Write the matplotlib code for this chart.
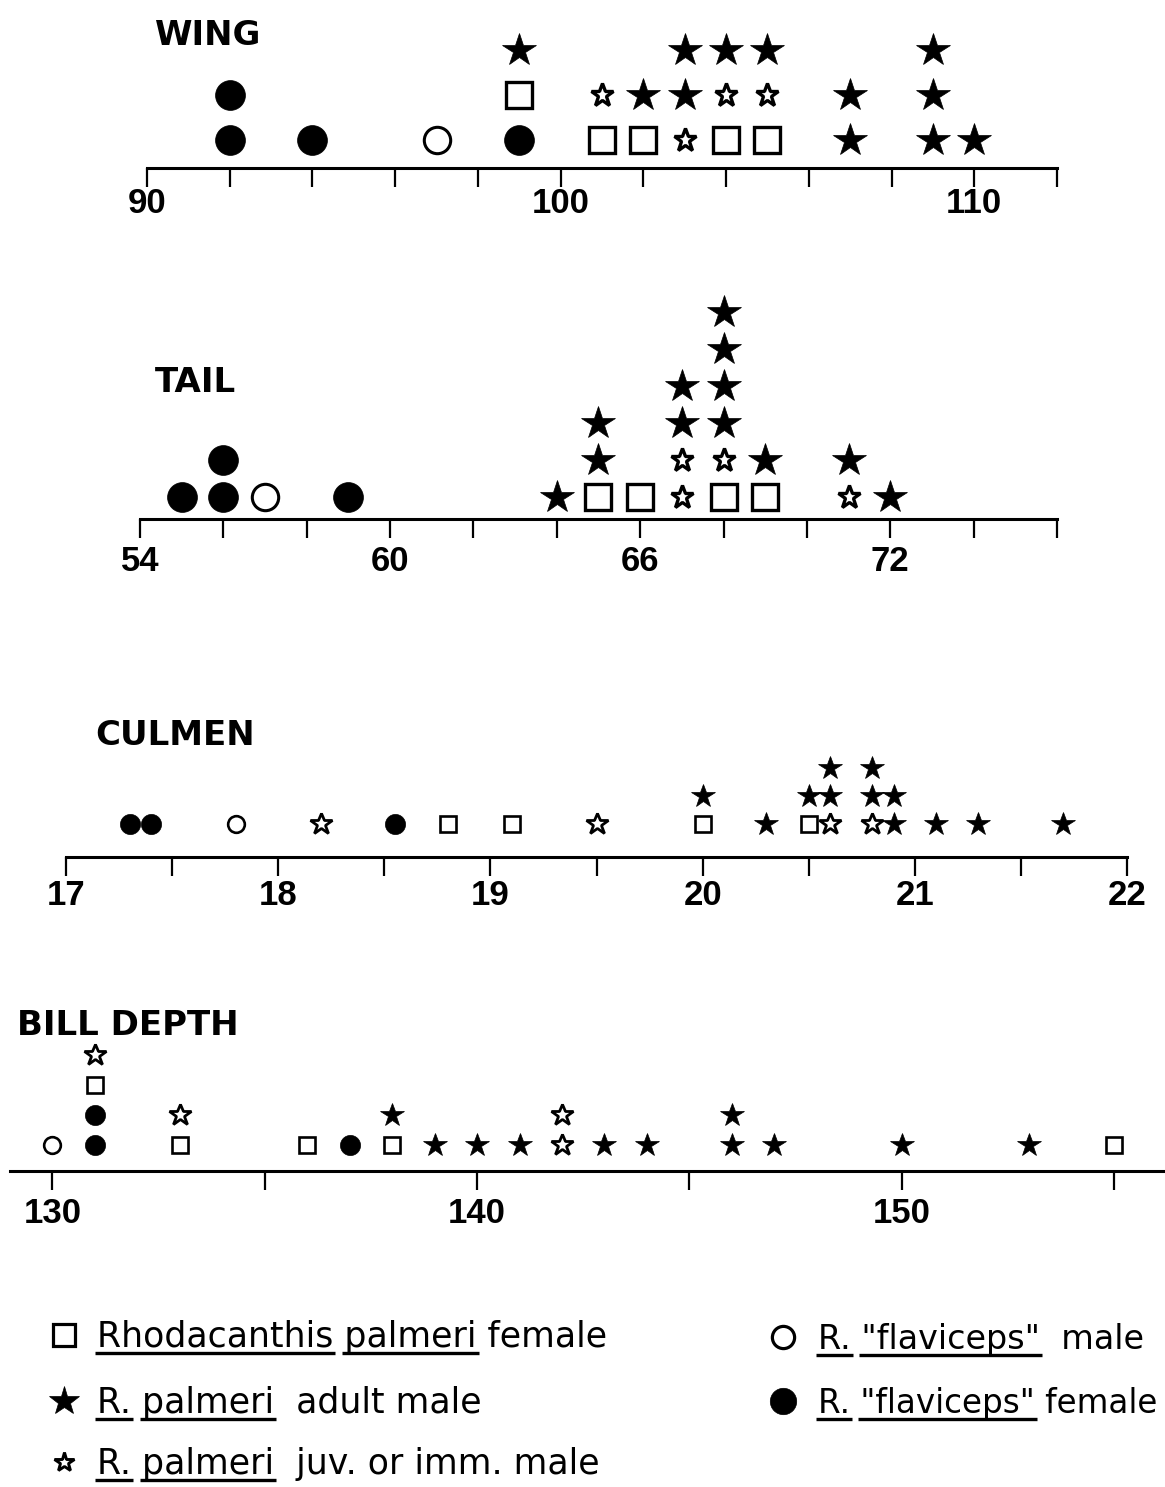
import matplotlib
matplotlib.use("Agg")
import matplotlib.pyplot as plt
from matplotlib import font_manager

W, H = 1165, 1487

available = {f.name for f in font_manager.fontManager.ttflist}
TICK_FONT = "Liberation Sans Narrow" if "Liberation Sans Narrow" in available else "Liberation Sans"
TEXT_FONT = "DejaVu Sans"

# ---------------- data ----------------
ORDER = ["flav_female", "flav_male", "female", "juv", "adult"]

wing_flav_female = [92, 92, 94, 99]
wing_flav_male = [97]
wing_female = [99, 101, 102, 104, 105]
wing_juv = [101, 103, 104, 105]
wing_adult = [99, 102, 103, 103, 104, 105, 107, 107, 109, 109, 109, 110]
wing_ticks = list(range(90, 113, 2))
wing_labels = [90, 100, 110]

tail_flav_female = [55, 56, 56, 59]
tail_flav_male = [57]
tail_female = [65, 66, 68, 69]
tail_juv = [67, 67, 68, 71]
tail_adult = [64, 65, 65, 67, 67, 68, 68, 68, 68, 69, 71, 72]
tail_ticks = list(range(54, 77, 2))
tail_labels = [54, 60, 66, 72]

culmen_flav_female = [17.3, 17.4, 18.55]
culmen_flav_male = [17.8]
culmen_female = [18.8, 19.1, 20.0, 20.5]
culmen_juv = [18.2, 19.5, 20.6, 20.8]
culmen_adult = [20.0, 20.3, 20.5, 20.6, 20.6, 20.8, 20.8, 20.9, 20.9, 21.1, 21.3, 21.7]
culmen_ticks = [17, 17.5, 18, 18.5, 19, 19.5, 20, 20.5, 21, 21.5, 22]
culmen_labels = [17, 18, 19, 20, 21, 22]

bill_flav_female = [131, 131, 137]
bill_flav_male = [130]
bill_female = [131, 133, 136, 138, 155]
bill_juv = [131, 133, 142, 142]
bill_adult = [138, 139, 140, 141, 143, 144, 146, 146, 147, 150, 153]
bill_ticks = [130, 135, 140, 145, 150, 155]
bill_labels = [130, 140, 150]

# ---------------- styles ----------------
STYLES = {
    "flav_female": dict(marker="o", mfc="black", mec="black"),
    "flav_male": dict(marker="o", mfc="white", mec="black"),
    "female": dict(marker="s", mfc="white", mec="black"),
    "juv": dict(marker="*", mfc="white", mec="black"),
    "adult": dict(marker="*", mfc="black", mec="black"),
}
SIZES_BIG = {"flav_female": (21.5, 0.5), "flav_male": (19, 2.2), "female": (18.5, 2.4),
             "juv": (17, 2.4), "adult": (25, 0.5)}
SIZES_SMALL = {"flav_female": (14.5, 0.5), "flav_male": (12, 1.9), "female": (11.5, 1.9),
               "juv": (16.5, 2.0), "adult": (17.5, 0.5)}

fig = plt.figure(figsize=(W / 100, H / 100), dpi=100)


def fmt(t):
    return str(int(round(t)))


def draw_panel(title, title_xy, series, xlim, x_px, axis_y, base, step, ticks, labeled,
               sizes, label_pad, height_px=160):
    left = x_px[0] / W
    width = (x_px[1] - x_px[0]) / W
    bottom = 1 - axis_y / H
    ax = fig.add_axes([left, bottom, width, height_px / H])
    ax.set_xlim(*xlim)
    ax.set_ylim(0, height_px)
    ax.patch.set_visible(False)
    for s in ["top", "left", "right"]:
        ax.spines[s].set_visible(False)
    ax.spines["bottom"].set_linewidth(2.2)
    ax.set_yticks([])
    ax.set_xticks(ticks)
    ax.set_xticklabels([fmt(t) if any(abs(t - l) < 1e-9 for l in labeled) else "" for t in ticks],
                       fontfamily=TICK_FONT, fontsize=25, fontweight="bold")
    ax.tick_params(axis="x", direction="out", length=14, width=1.6, pad=label_pad)
    counts = {}
    for key in ORDER:
        xs, ys = [], []
        for v in series[key]:
            k = round(v, 3)
            lvl = counts.get(k, 0)
            counts[k] = lvl + 1
            xs.append(v)
            ys.append(base + lvl * step)
        ms, mew = sizes[key]
        ax.plot(xs, ys, linestyle="none", ms=ms, mew=mew, clip_on=False, **STYLES[key])
    fig.text(title_xy[0] / W, 1 - title_xy[1] / H, title, fontfamily=TEXT_FONT,
             fontweight="bold", fontsize=24.5, ha="left", va="baseline")
    return ax


draw_panel("WING", (155, 45),
           dict(flav_female=wing_flav_female, flav_male=wing_flav_male, female=wing_female,
                juv=wing_juv, adult=wing_adult),
           (90, 112), (147, 1057), 168, 28, 45, wing_ticks, wing_labels, SIZES_BIG, 0)

draw_panel("TAIL", (155, 392),
           dict(flav_female=tail_flav_female, flav_male=tail_flav_male, female=tail_female,
                juv=tail_juv, adult=tail_adult),
           (54, 76), (140, 1057), 519, 22, 37, tail_ticks, tail_labels, SIZES_BIG, 5, 230)

draw_panel("CULMEN", (95, 745),
           dict(flav_female=culmen_flav_female, flav_male=culmen_flav_male, female=culmen_female,
                juv=culmen_juv, adult=culmen_adult),
           (17, 22), (66, 1127), 857, 33, 28, culmen_ticks, culmen_labels, SIZES_SMALL, 2)

draw_panel("BILL DEPTH", (17, 1035),
           dict(flav_female=bill_flav_female, flav_male=bill_flav_male, female=bill_female,
                juv=bill_juv, adult=bill_adult),
           (129.0, 156.2), (10, 1165), 1171, 26, 30, bill_ticks, bill_labels, SIZES_SMALL, 5)

# ---------------- legend ----------------
lax = fig.add_axes([0, 0, 1, 1])
lax.set_xlim(0, W)
lax.set_ylim(H, 0)
lax.axis("off")
renderer = fig.canvas.get_renderer()
LEG_SIZE = 25


def measure(x, y, s, size):
    t = lax.text(x, y, s, fontsize=size, family=TEXT_FONT, ha="left", va="baseline")
    bb = t.get_window_extent(renderer)
    t.remove()
    return bb.x0, bb.x1


def underlined_text(x, y, parts, size):
    full = "".join(p for p, _ in parts)
    lax.text(x, y, full, fontsize=size, family=TEXT_FONT, ha="left", va="baseline")
    pos = 0
    for p, u in parts:
        if u:
            _, end = measure(x, y, full[:pos + len(p)], size)
            w0, w1 = measure(x, y, p, size)
            start = end - (w1 - w0)
            lax.plot([start - 2, end + 2], [y + 6, y + 6], color="black", lw=2.4,
                     solid_capstyle="butt")
        pos += len(p)


legend_rows = [
    ("female", 64, 1335, 16, 2.3, 97, 1347, LEG_SIZE,
     [("Rhodacanthis", True), (" ", False), ("palmeri", True), (" female", False)]),
    ("adult", 64, 1401, 22, 0.5, 97, 1413, LEG_SIZE,
     [("R.", True), (" ", False), ("palmeri", True), ("  adult male", False)]),
    ("juv", 64, 1462, 15, 2.1, 97, 1474, LEG_SIZE,
     [("R.", True), (" ", False), ("palmeri", True), ("  juv. or imm. male", False)]),
    ("flav_male", 783, 1337, 16, 2.3, 818, 1349, 24,
     [("R.", True), (" ", False), ('"flaviceps"', True), ("  male", False)]),
    ("flav_female", 783, 1401, 19, 0.5, 818, 1413, 23.5,
     [("R.", True), (" ", False), ('"flaviceps"', True), (" female", False)]),
]
for key, kx, ky, ms, mew, tx, ty, size, parts in legend_rows:
    lax.plot([kx], [ky], linestyle="none", ms=ms, mew=mew, clip_on=False, **STYLES[key])
    underlined_text(tx, ty, parts, size)

fig.savefig("out.png", dpi=100)
